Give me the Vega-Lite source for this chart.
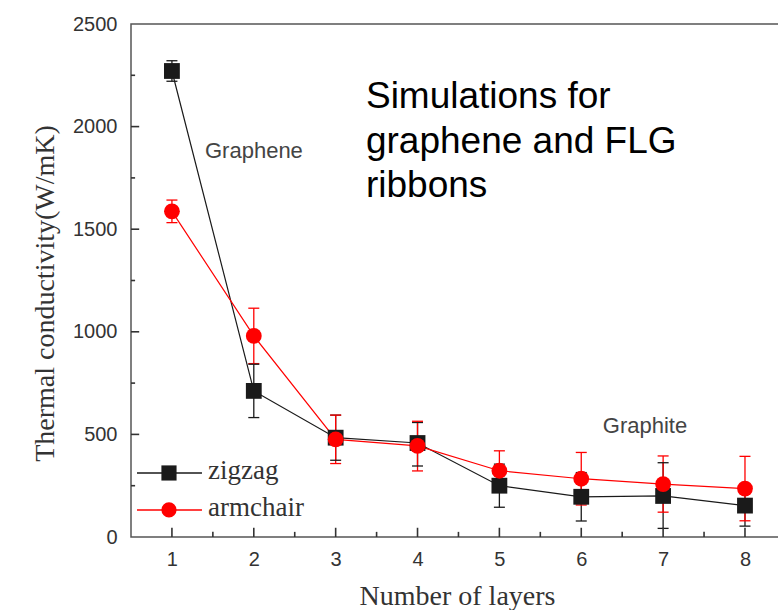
{
  "$schema": "https://vega.github.io/schema/vega-lite/v6.json",
  "width": 650,
  "height": 513,
  "autosize": {"type": "none"},
  "padding": {"left": 131, "top": 24, "right": 0, "bottom": 73},
  "background": "white",
  "config": {
    "view": {"stroke": "#555555", "strokeWidth": 1.5},
    "font": "Liberation Sans",
    "axis": {"domain": false, "grid": false, "ticks": false, "labelFont": "Liberation Sans", "labelFontSize": 20, "labelColor": "#333333", "titleFont": "Liberation Serif", "titleFontSize": 28, "titleFontWeight": "normal", "titleColor": "#333333"}
  },
  "datasets": {
    "series": [
      {"layers": 1, "type": "zigzag", "k": 2271, "lo": 2221, "hi": 2321},
      {"layers": 2, "type": "zigzag", "k": 712, "lo": 582, "hi": 842},
      {"layers": 3, "type": "zigzag", "k": 484, "lo": 374, "hi": 594},
      {"layers": 4, "type": "zigzag", "k": 458, "lo": 346, "hi": 558},
      {"layers": 5, "type": "zigzag", "k": 250, "lo": 145, "hi": 355},
      {"layers": 6, "type": "zigzag", "k": 196, "lo": 78, "hi": 314},
      {"layers": 7, "type": "zigzag", "k": 200, "lo": 42, "hi": 362},
      {"layers": 8, "type": "zigzag", "k": 153, "lo": 53, "hi": 253},
      {"layers": 1, "type": "armchair", "k": 1587, "lo": 1532, "hi": 1642},
      {"layers": 2, "type": "armchair", "k": 980, "lo": 845, "hi": 1115},
      {"layers": 3, "type": "armchair", "k": 476, "lo": 358, "hi": 594},
      {"layers": 4, "type": "armchair", "k": 444, "lo": 322, "hi": 564},
      {"layers": 5, "type": "armchair", "k": 323, "lo": 226, "hi": 420},
      {"layers": 6, "type": "armchair", "k": 284, "lo": 156, "hi": 412},
      {"layers": 7, "type": "armchair", "k": 258, "lo": 121, "hi": 395},
      {"layers": 8, "type": "armchair", "k": 236, "lo": 79, "hi": 393}
    ],
    "legendRows": [
      {"type": "zigzag", "x0": 0.573, "x1": 1.367, "xm": 0.964, "xt": 1.44, "y": 312},
      {"type": "armchair", "x0": 0.573, "x1": 1.367, "xm": 0.964, "xt": 1.44, "y": 132}
    ],
    "xTicks": [
      {"v": 1, "lo": 0, "hi": 45}, {"v": 1.5, "lo": 0, "hi": 25}, {"v": 2, "lo": 0, "hi": 45}, {"v": 2.5, "lo": 0, "hi": 25},
      {"v": 3, "lo": 0, "hi": 45}, {"v": 3.5, "lo": 0, "hi": 25}, {"v": 4, "lo": 0, "hi": 45}, {"v": 4.5, "lo": 0, "hi": 25},
      {"v": 5, "lo": 0, "hi": 45}, {"v": 5.5, "lo": 0, "hi": 25}, {"v": 6, "lo": 0, "hi": 45}, {"v": 6.5, "lo": 0, "hi": 25},
      {"v": 7, "lo": 0, "hi": 45}, {"v": 7.5, "lo": 0, "hi": 25}, {"v": 8, "lo": 0, "hi": 45}
    ],
    "yTicks": [
      {"v": 250, "lo": 0.5, "hi": 0.55}, {"v": 500, "lo": 0.5, "hi": 0.6}, {"v": 750, "lo": 0.5, "hi": 0.55},
      {"v": 1000, "lo": 0.5, "hi": 0.6}, {"v": 1250, "lo": 0.5, "hi": 0.55}, {"v": 1500, "lo": 0.5, "hi": 0.6},
      {"v": 1750, "lo": 0.5, "hi": 0.55}, {"v": 2000, "lo": 0.5, "hi": 0.6}, {"v": 2250, "lo": 0.5, "hi": 0.55}
    ],
    "bigText": [
      {"x": 3.37, "y": 2091, "label": "Simulations for"},
      {"x": 3.37, "y": 1871, "label": "graphene and FLG"},
      {"x": 3.37, "y": 1657, "label": "ribbons"}
    ],
    "smallText": [
      {"x": 1.404, "y": 1847, "label": "Graphene"},
      {"x": 6.263, "y": 507, "label": "Graphite"}
    ]
  },
  "layer": [
    {
      "data": {"name": "series"},
      "mark": {"type": "rule", "strokeWidth": 1.3},
      "encoding": {
        "x": {"field": "layers", "type": "quantitative", "scale": {"domain": [0.5, 8.44], "nice": false, "zero": false},
          "axis": {"title": "Number of layers", "values": [1, 2, 3, 4, 5, 6, 7, 8], "format": "d", "labelPadding": 12,
            "titleY": 59, "titleBaseline": "middle", "titleX": 326, "titleAnchor": "middle"}},
        "y": {"field": "lo", "type": "quantitative", "scale": {"domain": [0, 2500], "nice": false},
          "axis": {"title": "Thermal conductivity(W/mK)", "values": [0, 500, 1000, 1500, 2000, 2500], "format": "d", "labelPadding": 14,
            "titleX": -86, "titleY": 269, "titleAngle": 270, "titleAlign": "center", "titleBaseline": "middle"}},
        "y2": {"field": "hi"},
        "stroke": {"field": "type", "type": "nominal", "scale": {"domain": ["zigzag", "armchair"], "range": ["#1a1a1a", "#ff0000"]}, "legend": null}
      }
    },
    {
      "data": {"name": "series"},
      "mark": {"type": "point", "shape": "M-1,0H1", "size": 121, "filled": false, "strokeWidth": 1.3, "opacity": 1},
      "encoding": {
        "x": {"field": "layers", "type": "quantitative"},
        "y": {"field": "lo", "type": "quantitative"},
        "stroke": {"field": "type", "type": "nominal", "legend": null}
      }
    },
    {
      "data": {"name": "series"},
      "mark": {"type": "point", "shape": "M-1,0H1", "size": 121, "filled": false, "strokeWidth": 1.3, "opacity": 1},
      "encoding": {
        "x": {"field": "layers", "type": "quantitative"},
        "y": {"field": "hi", "type": "quantitative"},
        "stroke": {"field": "type", "type": "nominal", "legend": null}
      }
    },
    {
      "data": {"name": "series"},
      "mark": {"type": "line", "strokeWidth": 1.2},
      "encoding": {
        "x": {"field": "layers", "type": "quantitative"},
        "y": {"field": "k", "type": "quantitative"},
        "detail": {"field": "type"},
        "stroke": {"field": "type", "type": "nominal", "legend": null}
      }
    },
    {
      "data": {"name": "series"},
      "mark": {"type": "point", "filled": true, "size": 250, "opacity": 1},
      "encoding": {
        "x": {"field": "layers", "type": "quantitative"},
        "y": {"field": "k", "type": "quantitative"},
        "color": {"field": "type", "type": "nominal", "scale": {"domain": ["zigzag", "armchair"], "range": ["#1a1a1a", "#ff0000"]}, "legend": null},
        "shape": {"field": "type", "type": "nominal", "scale": {"domain": ["zigzag", "armchair"], "range": ["square", "circle"]}, "legend": null}
      }
    },
    {
      "data": {"name": "legendRows"},
      "mark": {"type": "rule", "strokeWidth": 1.5},
      "encoding": {
        "x": {"field": "x0", "type": "quantitative"},
        "x2": {"field": "x1"},
        "y": {"field": "y", "type": "quantitative"},
        "stroke": {"field": "type", "type": "nominal", "legend": null}
      }
    },
    {
      "data": {"name": "legendRows"},
      "mark": {"type": "point", "filled": true, "size": 230, "opacity": 1},
      "encoding": {
        "x": {"field": "xm", "type": "quantitative"},
        "y": {"field": "y", "type": "quantitative"},
        "color": {"field": "type", "type": "nominal", "legend": null},
        "shape": {"field": "type", "type": "nominal", "legend": null}
      }
    },
    {
      "data": {"name": "legendRows"},
      "mark": {"type": "text", "align": "left", "baseline": "middle", "font": "Liberation Serif", "fontSize": 27, "color": "#333333", "dy": -2},
      "encoding": {
        "x": {"field": "xt", "type": "quantitative"},
        "y": {"field": "y", "type": "quantitative"},
        "text": {"field": "type"}
      }
    },
    {
      "data": {"name": "xTicks"},
      "mark": {"type": "rule", "stroke": "#333333", "strokeWidth": 1.6, "opacity": 1},
      "encoding": {"x": {"field": "v", "type": "quantitative"}, "y": {"field": "lo", "type": "quantitative"}, "y2": {"field": "hi"}}
    },
    {
      "data": {"name": "yTicks"},
      "mark": {"type": "rule", "stroke": "#333333", "strokeWidth": 1.6, "opacity": 1},
      "encoding": {"y": {"field": "v", "type": "quantitative"}, "x": {"field": "lo", "type": "quantitative"}, "x2": {"field": "hi"}}
    },
    {
      "data": {"name": "bigText"},
      "mark": {"type": "text", "align": "left", "baseline": "alphabetic", "font": "Liberation Sans", "fontSize": 37, "color": "#000000"},
      "encoding": {
        "x": {"field": "x", "type": "quantitative"},
        "y": {"field": "y", "type": "quantitative"},
        "text": {"field": "label"}
      }
    },
    {
      "data": {"name": "smallText"},
      "mark": {"type": "text", "align": "left", "baseline": "alphabetic", "font": "Liberation Sans", "fontSize": 22, "color": "#444444"},
      "encoding": {
        "x": {"field": "x", "type": "quantitative"},
        "y": {"field": "y", "type": "quantitative"},
        "text": {"field": "label"}
      }
    }
  ]
}
